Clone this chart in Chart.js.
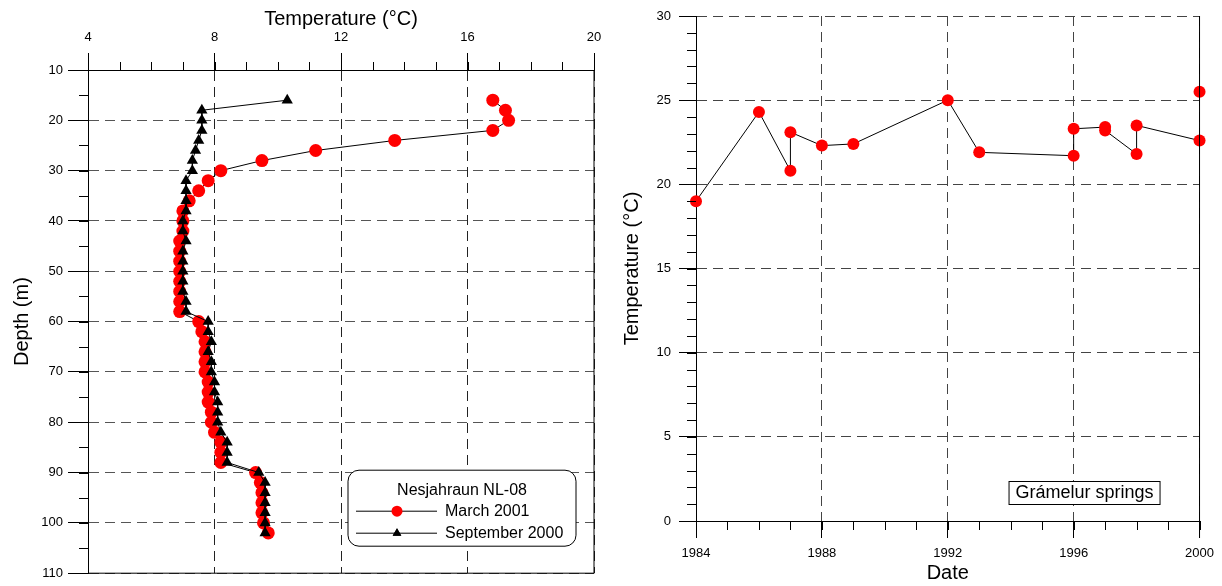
<!DOCTYPE html>
<html>
<head>
<meta charset="utf-8">
<script src="https://cdn.jsdelivr.net/npm/chart.js@4.4.0/dist/chart.umd.min.js"></script>
<style>
  body { margin: 0; background: #fff; }
  #left { position: absolute; left: 0; top: 0; width: 610px; height: 586px; }
  #right { position: absolute; left: 610px; top: 0; width: 612px; height: 586px; }
</style>
</head>
<body>
<div id="left"><canvas id="depthChart"></canvas></div>
<div id="right"><canvas id="springChart"></canvas></div>
<script>
// Nesjahraun NL-08 temperature logs
let depths = [16, 18, 20, 22, 24, 26, 28, 30, 32, 34, 36, 38, 40, 42, 44, 46, 48, 50, 52, 54, 56, 58,
              60, 62, 64, 66, 68, 70, 72, 74, 76, 78, 80, 82, 84, 86, 88, 90, 92, 94, 96, 98, 100, 102];
let tempMarch2001 = [16.8, 17.2, 17.3, 16.8, 13.7, 11.2, 9.5, 8.2, 7.8, 7.5, 7.2, 7.0, 7.0, 7.0, 6.9, 6.9, 6.9, 6.9, 6.9, 6.9, 6.9, 6.9,
                     7.5, 7.6, 7.7, 7.7, 7.7, 7.7, 7.8, 7.8, 7.8, 7.9, 7.9, 8.0, 8.2, 8.2, 8.2, 9.3, 9.45, 9.5, 9.5, 9.5, 9.55, 9.7];
let tempSept2000 = [10.3, 7.6, 7.6, 7.6, 7.5, 7.4, 7.3, 7.3, 7.1, 7.1, 7.1, 7.1, 7.0, 7.0, 7.1, 7.0, 7.0, 7.0, 7.0, 7.0, 7.1, 7.1,
                    7.8, 7.8, 7.9, 7.8, 7.9, 7.9, 8.0, 8.0, 8.1, 8.1, 8.1, 8.2, 8.4, 8.4, 8.4, 9.4, 9.6, 9.6, 9.6, 9.6, 9.6, 9.6];

// Grámelur springs
let springYears = [1984, 1986, 1987, 1987, 1988, 1989, 1992, 1993, 1996, 1996, 1997, 1997, 1998, 1998, 2000];
let springTemps = [19.0, 24.3, 20.8, 23.1, 22.3, 22.4, 25.0, 21.9, 21.7, 23.3, 23.4, 23.2, 21.8, 23.5, 22.6];
let springExtraYears = [2000];
let springExtraTemps = [25.5];

Chart.defaults.font.family = '"Liberation Sans", Arial, sans-serif';
Chart.defaults.color = '#111';

function toPoints(xs, ys) {
  return xs.map((v, i) => ({ x: v, y: ys[i] }));
}

// minor ticks + closing lines of the frame
const minorTicks = {
  id: 'minorTicks',
  afterDraw(chart, args, opts) {
    const ctx = chart.ctx;
    const area = chart.chartArea;
    ctx.save();
    ctx.strokeStyle = '#000';
    ctx.lineWidth = 1;
    ctx.beginPath();
    ['x', 'y'].forEach(id => {
      const s = chart.scales[id];
      const step = opts[id].step, len = opts[id].len;
      for (let v = s.min; v <= s.max + 1e-9; v += step) {
        if (id == 'x') {
          const px = Math.round(s.getPixelForValue(v)) + 0.5;
          const y0 = s.position == 'top' ? area.top : area.bottom;
          const dir = s.position == 'top' ? -1 : 1;
          ctx.moveTo(px, y0);
          ctx.lineTo(px, y0 + dir * len);
        } else {
          const py = Math.round(s.getPixelForValue(v)) + 0.5;
          ctx.moveTo(area.left, py);
          ctx.lineTo(area.left - len, py);
        }
      }
    });
    if (opts.right) {
      ctx.moveTo(area.right, area.top);
      ctx.lineTo(area.right, area.bottom + opts.rightExtra);
    }
    if (opts.bottom) {
      ctx.moveTo(area.left, area.bottom);
      ctx.lineTo(area.right, area.bottom);
    }
    ctx.stroke();
    ctx.restore();
  }
};

function roundRect(ctx, x, y, w, h, r) {
  ctx.beginPath();
  ctx.moveTo(x + r, y);
  ctx.arcTo(x + w, y, x + w, y + h, r);
  ctx.arcTo(x + w, y + h, x, y + h, r);
  ctx.arcTo(x, y + h, x, y, r);
  ctx.arcTo(x, y, x + w, y, r);
  ctx.closePath();
}

const depthLegend = {
  id: 'depthLegend',
  afterDraw(chart) {
    const ctx = chart.ctx;
    const a = chart.chartArea;
    const x = a.right - 246, y = a.bottom - 103;
    ctx.save();
    roundRect(ctx, x, y, 228, 76, 11);
    ctx.fillStyle = '#fff';
    ctx.fill();
    ctx.strokeStyle = '#000';
    ctx.lineWidth = 1;
    ctx.stroke();
    ctx.fillStyle = '#000';
    ctx.font = '16px "Liberation Sans", Arial, sans-serif';
    ctx.textAlign = 'center';
    ctx.textBaseline = 'middle';
    ctx.fillText('Nesjahraun NL-08', x + 114, y + 20);
    ctx.textAlign = 'left';
    const rows = [['March 2001', 'circle'], ['September 2000', 'triangle']];
    rows.forEach((r, i) => {
      const ry = y + 41 + i * 22;
      ctx.beginPath();
      ctx.moveTo(x + 8, ry);
      ctx.lineTo(x + 89, ry);
      ctx.strokeStyle = '#000';
      ctx.stroke();
      ctx.fillStyle = '#000';
      ctx.fillText(r[0], x + 97, ry);
      if (r[1] == 'circle') {
        ctx.fillStyle = '#ff0000';
        ctx.beginPath();
        ctx.arc(x + 49, ry, 5.5, 0, Math.PI * 2);
        ctx.fill();
      } else {
        ctx.fillStyle = '#000';
        Chart.helpers.drawPoint(ctx, { pointStyle: 'triangle', radius: 5, borderWidth: 0 }, x + 49, ry);
        ctx.fill();
      }
    });
    ctx.restore();
  }
};

const springLabel = {
  id: 'springLabel',
  afterDraw(chart) {
    const ctx = chart.ctx;
    const a = chart.chartArea;
    const x = a.right - 191, y = a.bottom - 40;
    ctx.save();
    ctx.fillStyle = '#fff';
    ctx.fillRect(x, y, 151, 23);
    ctx.strokeStyle = '#000';
    ctx.lineWidth = 1;
    ctx.strokeRect(x + 0.5, y + 0.5, 151, 23);
    ctx.fillStyle = '#000';
    ctx.font = '18px "Liberation Sans", Arial, sans-serif';
    ctx.textAlign = 'center';
    ctx.textBaseline = 'middle';
    ctx.fillText('Grámelur springs', x + 76, y + 12.5);
    ctx.restore();
  }
};

let chart_depth = new Chart(document.getElementById('depthChart'), {
  type: 'scatter',
  data: {
    datasets: [{
      label: 'September 2000',
      data: toPoints(tempSept2000, depths),
      showLine: true,
      borderColor: '#000',
      borderWidth: 1,
      pointStyle: 'triangle',
      pointRadius: 6.5,
      pointBackgroundColor: '#000',
      pointBorderColor: '#000',
      pointBorderWidth: 0,
      clip: false
    }, {
      label: 'March 2001',
      data: toPoints(tempMarch2001, depths),
      showLine: true,
      borderColor: '#000',
      borderWidth: 1,
      pointStyle: 'circle',
      pointRadius: 6.5,
      pointBackgroundColor: '#ff0000',
      pointBorderColor: '#ff0000',
      pointBorderWidth: 0,
      clip: false
    }]
  },
  options: {
    responsive: true,
    maintainAspectRatio: false,
    animation: false,
    events: [],
    layout: { padding: { left: 0, right: 16, top: 0, bottom: 11 } },
    plugins: {
      legend: { display: false },
      tooltip: { enabled: false },
      minorTicks: { x: { step: 1, len: 8 }, y: { step: 5, len: 9 }, right: true, rightExtra: 0, bottom: true }
    },
    scales: {
      x: {
        type: 'linear',
        position: 'top',
        min: 4,
        max: 20,
        ticks: { stepSize: 4, padding: 8, font: { size: 13 }, color: '#000' },
        grid: { color: '#222', tickLength: 17, tickColor: '#000' },
        border: { color: '#000', dash: [10, 6] },
        title: { display: true, text: 'Temperature (°C)', font: { size: 20 }, color: '#000', padding: { top: 7 } },
        afterFit: s => { s.height = 70; }
      },
      y: {
        type: 'linear',
        reverse: true,
        min: 10,
        max: 110,
        ticks: { stepSize: 10, padding: 5, font: { size: 13 }, color: '#000' },
        grid: { color: '#555', tickLength: 20, tickColor: '#000' },
        border: { color: '#000', dash: [10, 6] },
        title: { display: true, text: 'Depth (m)', font: { size: 20 }, color: '#000', padding: { top: 10 } },
        afterFit: s => { s.width = 88; }
      }
    }
  },
  plugins: [minorTicks, depthLegend]
});

let chart_spring = new Chart(document.getElementById('springChart'), {
  type: 'scatter',
  data: {
    datasets: [{
      label: 'Grámelur springs',
      data: toPoints(springYears, springTemps),
      showLine: true,
      borderColor: '#000',
      borderWidth: 1,
      pointRadius: 6,
      pointBackgroundColor: '#ff0000',
      pointBorderColor: '#ff0000',
      pointBorderWidth: 0,
      clip: false
    }, {
      label: 'Grámelur springs (2000)',
      data: toPoints(springExtraYears, springExtraTemps),
      showLine: false,
      pointRadius: 6,
      pointBackgroundColor: '#ff0000',
      pointBorderColor: '#ff0000',
      pointBorderWidth: 0,
      clip: false
    }]
  },
  options: {
    responsive: true,
    maintainAspectRatio: false,
    animation: false,
    events: [],
    layout: { padding: { left: 0, right: 20, top: 16, bottom: 0 } },
    plugins: {
      legend: { display: false },
      tooltip: { enabled: false },
      minorTicks: { x: { step: 1, len: 9 }, y: { step: 1, len: 9 }, right: true, rightExtra: 17, bottom: false }
    },
    scales: {
      x: {
        type: 'linear',
        min: 1984,
        max: 2000,
        ticks: { stepSize: 4, padding: 8, font: { size: 13 }, color: '#000', callback: v => String(v) },
        grid: { color: '#444', tickLength: 17, tickColor: '#000' },
        border: { color: '#000', dash: [10, 6] },
        title: { display: true, text: 'Date', font: { size: 20 }, color: '#000', padding: { bottom: 1 } },
        afterFit: s => { s.height = 65; }
      },
      y: {
        type: 'linear',
        min: 0,
        max: 30,
        ticks: { stepSize: 5, padding: 8, font: { size: 13 }, color: '#000' },
        grid: { color: '#444', tickLength: 17, tickColor: '#000' },
        border: { color: '#000', dash: [10, 6] },
        title: { display: true, text: 'Temperature (°C)', font: { size: 20 }, color: '#000', padding: { top: 10 } },
        afterFit: s => { s.width = 86; }
      }
    }
  },
  plugins: [minorTicks, springLabel]
});
</script>
</body>
</html>
